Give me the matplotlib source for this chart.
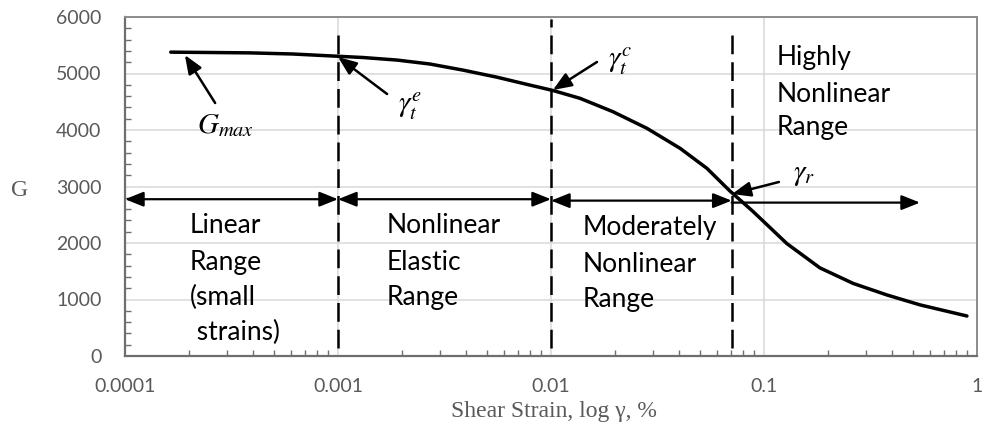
import matplotlib
matplotlib.use("Agg")
import matplotlib.pyplot as plt
from matplotlib.ticker import FixedLocator, NullFormatter, LogLocator

plt.rcParams["mathtext.fontset"] = "stix"

# Shear modulus degradation curve (strain in %, G)
strain = [1.64e-4, 3.86e-4, 6.15e-4, 9.17e-4, 1.31e-3, 1.89e-3, 2.70e-3,
          3.86e-3, 5.57e-3, 7.96e-3, 1.02e-2, 1.37e-2, 1.95e-2, 2.82e-2,
          4.04e-2, 5.40e-2, 6.92e-2, 8.87e-2, 0.128, 0.183, 0.262, 0.378,
          0.540, 0.897]
modulus = [5378, 5365, 5345, 5312, 5283, 5238, 5168, 5060, 4935, 4795,
           4700, 4560, 4325, 4030, 3675, 3320, 2920, 2560, 1990, 1560,
           1285, 1080, 905, 708]

# Range boundaries: linear / elastic threshold / cyclic threshold / reference strain
boundaries = [1e-4, 1e-3, 1e-2, 0.0705]
boundary_tops = [5790, 5960, 5780]
range_arrow_levels = [2775, 2775, 2750]
far_arrow_end = 0.54
far_arrow_level = 2715

x_ticks = [1e-4, 1e-3, 1e-2, 1e-1, 1]
x_tick_labels = ["0.0001", "0.001", "0.01", "0.1", "1"]
y_ticks = [0, 1000, 2000, 3000, 4000, 5000, 6000]

# Region captions: (x position, [(line, baseline G)])
region_text = [
    (2.02e-4, [("Linear", 2177), ("Range", 1522), ("(small", 903), (" strains)", 283)]),
    (1.70e-3, [("Nonlinear", 2177), ("Elastic", 1522), ("Range", 903)]),
    (0.0140, [("Moderately", 2142), ("Nonlinear", 1487), ("Range", 867)]),
    (0.115, [("Highly", 5150), ("Nonlinear", 4496), ("Range", 3912)]),
]

# Pointer labels: text, text anchor, arrow tail, arrow tip
pointers = [
    (r"$G_{max}$", (2.18e-4, 3950), "baseline", (2.65e-4, 4478), (1.91e-4, 5327)),
    (r"$\gamma_t^e$", (1.914e-3, 4425), "center", (1.70e-3, 4637), (1.0e-3, 5292)),
    (r"$\gamma_t^c$", (0.01853, 5221), "center", (0.01644, 5204), (0.01021, 4708)),
    (r"$\gamma_r$", (0.1368, 3221), "center", (0.1175, 3080), (0.0708, 2867)),
]

sans = ["Lato", "DejaVu Sans"]
serif = ["Liberation Serif", "DejaVu Serif"]
tick_grey = "#595959"

fig = plt.figure(figsize=(9.85, 4.30), dpi=100)
ax = fig.add_axes([125 / 985, 74 / 430, 852 / 985, 339 / 430])
ax.set_xscale("log")
ax.set_xlim(1e-4, 1)
ax.set_ylim(0, 6000)

ax.set_xticks(x_ticks)
ax.set_xticklabels(x_tick_labels)
ax.xaxis.set_minor_locator(LogLocator(base=10, subs=range(2, 10)))
ax.xaxis.set_minor_formatter(NullFormatter())
ax.set_yticks(y_ticks)
ax.yaxis.set_minor_locator(FixedLocator([v for v in range(0, 6001, 200) if v % 1000]))

ax.grid(True, which="major", color="#d9d9d9", lw=1.1, zorder=0)
ax.set_axisbelow(True)
ax.tick_params(which="both", direction="in", color="#6e6e6e", width=1)
ax.tick_params(which="major", length=0)
ax.tick_params(which="minor", length=4.5)
ax.tick_params(axis="x", which="major", pad=16, labelsize=14, labelcolor=tick_grey)
ax.tick_params(axis="y", which="major", pad=17, labelsize=14, labelcolor=tick_grey)
for lab in ax.get_xticklabels() + ax.get_yticklabels():
    lab.set_family(sans)

for side in ("left", "bottom"):
    ax.spines[side].set_color("#6e6e6e")
    ax.spines[side].set_linewidth(1.6)
for side in ("top", "right"):
    ax.spines[side].set_color("#8c8c8c")
    ax.spines[side].set_linewidth(1.4)

# Degradation curve
ax.plot(strain, modulus, color="black", lw=2.5, solid_capstyle="round",
        solid_joinstyle="round", zorder=4)

# Dashed range boundaries
for b, top in zip(boundaries[1:], boundary_tops):
    ax.plot([b, b], [150, top], color="black", lw=1.8, ls=(0, (7.5, 3.2)), zorder=3)

# Range extent arrows
two_head = "<|-|>,head_length=0.75,head_width=0.3"
one_head = "-|>,head_length=0.75,head_width=0.3"
for i, lvl in enumerate(range_arrow_levels):
    ax.annotate("", xy=(boundaries[i + 1], lvl), xytext=(boundaries[i], lvl),
                arrowprops=dict(arrowstyle=two_head, color="black", lw=1.6,
                                mutation_scale=15, shrinkA=0, shrinkB=0),
                annotation_clip=False, zorder=5)
ax.annotate("", xy=(far_arrow_end, far_arrow_level), xytext=(boundaries[-1], far_arrow_level),
            arrowprops=dict(arrowstyle=one_head, color="black", lw=1.6,
                            mutation_scale=15, shrinkA=0, shrinkB=0), zorder=5)

# Region captions
for x, lines in region_text:
    for txt, yb in lines:
        ax.text(x, yb, txt, family=sans, fontsize=19, color="black",
                ha="left", va="baseline", zorder=6)

# Pointer labels
for label, (tx, ty), va, tail, tip in pointers:
    ax.text(tx, ty, label, fontsize=21, color="black", ha="left", va=va, zorder=6)
    ax.annotate("", xy=tip, xytext=tail,
                arrowprops=dict(arrowstyle=one_head, color="black", lw=1.8,
                                mutation_scale=15, shrinkA=0, shrinkB=0), zorder=6)

fig.text(20 / 985, 1 - 190 / 430, "G", family=serif, fontsize=17, color=tick_grey,
         ha="center", va="center")
fig.text(554 / 985, 1 - 411 / 430, "Shear Strain, log \u03b3, %", family=serif,
         fontsize=17, color=tick_grey, ha="center", va="center")

fig.savefig("out.png", dpi=100)
